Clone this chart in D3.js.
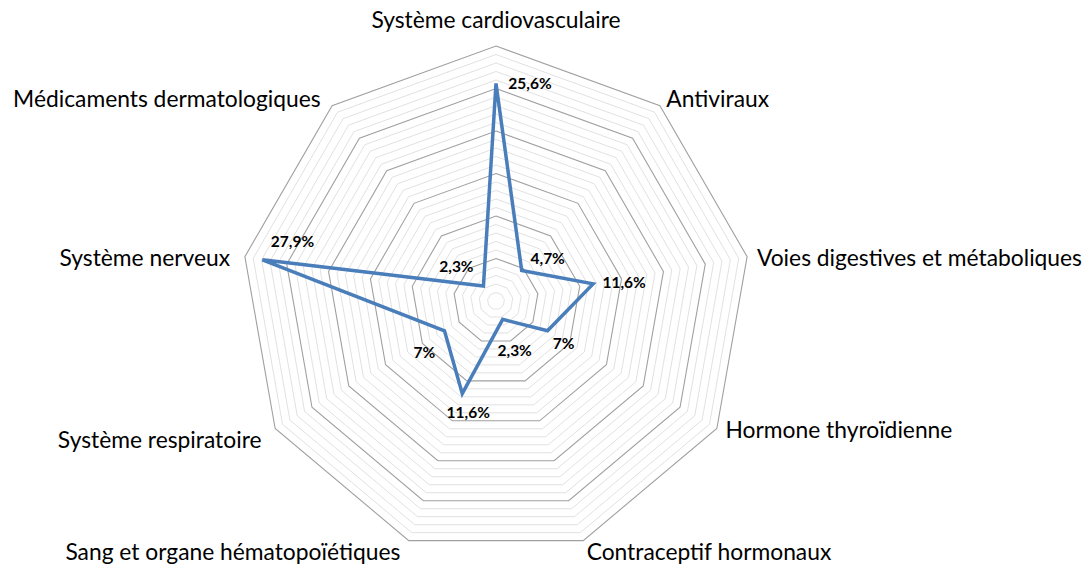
<!DOCTYPE html>
<html>
<head>
<meta charset="utf-8">
<script src="https://cdn.jsdelivr.net/npm/d3@7"></script>
<style>
  body { margin: 0; background: #fff; }
  text { font-family: Lato, "Open Sans", sans-serif; }
</style>
</head>
<body>
<div id="radar"></div>
<script>
// categories clockwise from the top
const categories = ["Système cardiovasculaire", "Antiviraux", "Voies digestives et métaboliques",
    "Hormone thyroïdienne", "Contraceptif hormonaux", "Sang et organe hématopoïétiques",
    "Système respiratoire", "Système nerveux", "Médicaments dermatologiques"];
const values = [25.6, 4.7, 11.6, 7, 2.3, 11.6, 7, 27.9, 2.3];
const valueLabels = ["25,6%", "4,7%", "11,6%", "7%", "2,3%", "11,6%", "7%", "27,9%", "2,3%"];
const maxValue = 30, majorStep = 5, minorStep = 1;

// where each value label sits relative to its point (layout only)
const labelShift = [[34, 0], [26, -12], [31, -2], [16, 12], [12, 31], [6, 18], [-20, 21], [30, -19], [-27, -20]];

function init() {
    var width = 1086, height = 567,
        cx = 496, cy = 301, R = 255;

    var svg = d3.select("div#radar").append("svg")
        .attr("width", width).attr("height", height);

    var r = d3.scaleLinear().domain([0, maxValue]).range([0, R]);
    var angle = d3.scaleLinear().domain([0, categories.length]).range([0, 2 * Math.PI]);

    function pt(i, v) {
        var a = angle(i);
        return [cx + r(v) * Math.sin(a), cy - r(v) * Math.cos(a)];
    }

    var ring = d3.line();
    var levels = d3.range(minorStep, maxValue + minorStep / 2, minorStep);
    // minor rings first, then majors on top
    var sorted = levels.filter(l => l % majorStep != 0).concat(levels.filter(l => l % majorStep == 0));

    svg.append("g").selectAll("path")
        .data(sorted)
        .enter().append("path")
        .attr("d", l => ring(categories.map((c, i) => pt(i, l))) + "Z")
        .attr("fill", "none")
        .attr("stroke", l => l % majorStep == 0 ? "#a0a0a0" : "#dedede")
        .attr("stroke-width", l => l % majorStep == 0 ? 1.1 : 0.9);

    // category labels
    svg.append("g").selectAll("text")
        .data(categories)
        .enter().append("text")
        .attr("x", (d, i) => {
            var p = pt(i, maxValue), s = Math.sin(angle(i));
            if (Math.abs(s) < 0.1) return p[0];
            return p[0] + 10 * s + (s < 0 ? -5 : 0);
        })
        .attr("y", (d, i) => {
            var p = pt(i, maxValue), c = Math.cos(angle(i));
            if (i == 0) return p[1] - 27;
            return p[1] + (c < -0.5 ? 10 : (c > 0.5 ? -8 : 0));
        })
        .attr("text-anchor", (d, i) => {
            var s = Math.sin(angle(i));
            return Math.abs(s) < 0.1 ? "middle" : (s > 0 ? "start" : "end");
        })
        .attr("dominant-baseline", "central")
        .attr("font-size", 22.8)
        .attr("fill", "#000")
        .text(d => d);

    // series line
    svg.append("path")
        .attr("d", ring(values.map((v, i) => pt(i, v))) + "Z")
        .attr("fill", "none")
        .attr("stroke", "#4a7ebb")
        .attr("stroke-width", 3.5)
        .attr("stroke-linejoin", "miter");

    // value labels
    svg.append("g").selectAll("text")
        .data(values)
        .enter().append("text")
        .attr("x", (v, i) => pt(i, v)[0] + labelShift[i][0])
        .attr("y", (v, i) => pt(i, v)[1] + labelShift[i][1])
        .attr("text-anchor", "middle")
        .attr("dominant-baseline", "central")
        .attr("font-size", 15.5)
        .attr("font-weight", "bold")
        .text((v, i) => valueLabels[i]);
}

init();
</script>
</body>
</html>
